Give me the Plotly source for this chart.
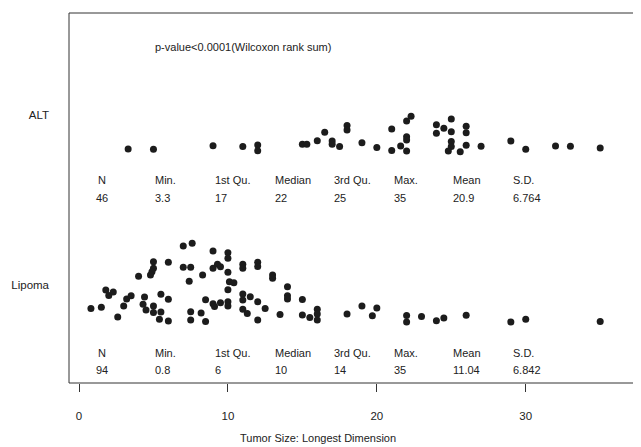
import plotly.graph_objects as go

# ---------------- data ----------------
groups = ["Lipoma", "ALT"]
group_pos = [1, 2]

alt_x = [3.3, 5.0, 9, 11, 12, 12, 15, 15.3, 16, 16.5, 17, 17, 17.5, 18, 18, 19, 20,
         21, 21, 21.6, 22, 22.3, 22, 22, 22, 24, 24, 24.5, 25, 25, 25, 25, 24.8, 25.6,
         26, 26, 26, 27, 29, 30, 32, 33, 35]
alt_y = [1.800, 1.798, 1.819, 1.814, 1.824, 1.790, 1.828, 1.828, 1.849, 1.898, 1.847,
         1.828, 1.815, 1.938, 1.912, 1.837, 1.809, 1.918, 1.791, 1.818, 1.965, 1.993,
         1.872, 1.853, 1.788, 1.943, 1.892, 1.922, 1.976, 1.902, 1.844, 1.815, 1.788,
         1.784, 1.934, 1.896, 1.822, 1.816, 1.847, 1.798, 1.818, 1.816, 1.806]

lip_x = [0.8, 1.5, 1.8, 2, 2.3, 2.6, 3, 3.2, 3.5, 4, 4.4, 4.3, 4.5, 5, 5, 4.9, 4.8, 5, 5,
         5.5, 5.5, 5.4, 6, 6, 6, 7, 7.6, 7, 7.5, 7.4, 7.5, 7.5, 8.3, 8.2, 8.5, 8.5,
         9, 9, 9.3, 9.5, 10, 10, 10, 10.1, 10.4, 10, 9, 9.1, 9.5, 10, 10,
         11, 11, 11, 11, 11, 11.3, 11.5, 12, 12, 13, 13, 14, 14, 14, 15, 12, 12.5, 12,
         13.5, 15, 15.5, 16, 16, 16, 18, 19, 19.7, 20, 22, 22, 23, 24, 24.5, 26, 29, 30, 35]
lip_y = [0.862, 0.869, 0.971, 0.938, 0.959, 0.812, 0.876, 0.918, 0.937, 1.051, 0.929,
         0.887, 0.853, 1.137, 1.098, 1.078, 1.059, 0.876, 0.838, 0.945, 0.841, 0.799,
         1.134, 0.916, 0.788, 1.229, 1.246, 1.105, 1.104, 1.022, 0.843, 0.794, 1.059,
         0.835, 0.913, 0.786, 1.200, 1.098, 1.122, 1.108, 1.190, 1.157, 1.075, 1.019,
         1.013, 0.972, 0.890, 0.874, 0.896, 0.902, 0.876, 1.122, 1.098, 0.947, 0.912,
         0.858, 0.832, 0.931, 1.134, 1.109, 1.059, 1.039, 0.990, 0.937, 0.918, 0.914,
         0.902, 0.862, 0.794, 0.826, 0.824, 0.809, 0.858, 0.829, 0.794, 0.829, 0.876,
         0.819, 0.865, 0.821, 0.782, 0.814, 0.790, 0.806, 0.822, 0.782, 0.798, 0.786]

stat_names = ["N", "Min.", "1st Qu.", "Median", "3rd Qu.", "Max.", "Mean", "S.D."]
stat_x = [1, 5, 9, 13, 17, 21, 25, 29]
alt_stats = ["46", "3.3", "17", "22", "25", "35", "20.9", "6.764"]
lip_stats = ["94", "0.8", "6", "10", "14", "35", "11.04", "6.842"]
alt_stat_y = [1.615, 1.51]
lip_stat_y = [0.6, 0.5]

pvalue_text = "p-value<0.0001(Wilcoxon rank sum)"
x_ticks = [0, 10, 20, 30]
x_title = "Tumor Size: Longest Dimension"

# ---------------- figure ----------------
FONT = "Liberation Sans, Arial, sans-serif"
DOT = "#1c1c1c"
TXT = "#222222"

fig = go.Figure()
fig.add_trace(go.Scatter(x=alt_x, y=alt_y, mode="markers", name="ALT",
                         marker=dict(size=7, color=DOT), hoverinfo="x"))
fig.add_trace(go.Scatter(x=lip_x, y=lip_y, mode="markers", name="Lipoma",
                         marker=dict(size=7, color=DOT), hoverinfo="x"))

annotations = []
for rows, (hy, vy) in ((alt_stats, alt_stat_y), (lip_stats, lip_stat_y)):
    for i, (name, sx, val) in enumerate(zip(stat_names, stat_x, rows)):
        if i == 0:
            annotations.append(dict(x=sx + 0.55, y=hy, text=name, xanchor="center",
                                    yanchor="middle", showarrow=False,
                                    font=dict(size=11, color=TXT, family=FONT)))
        else:
            annotations.append(dict(x=sx, y=hy, text=name, xanchor="left",
                                    yanchor="middle", showarrow=False,
                                    font=dict(size=11, color=TXT, family=FONT)))
        annotations.append(dict(x=sx, y=vy, text=val, xanchor="left",
                                yanchor="middle", showarrow=False,
                                font=dict(size=11, color=TXT, family=FONT)))

annotations.append(dict(x=5, y=2.4, text=pvalue_text, xanchor="left", yanchor="middle",
                        showarrow=False, font=dict(size=11, color=TXT, family=FONT)))
annotations.append(dict(x=0.435, y=-0.15, xref="paper", yref="paper", text=x_title,
                        xanchor="center", yanchor="middle", showarrow=False,
                        font=dict(size=11, color=TXT, family=FONT)))

line = dict(color="#333333", width=1)
shapes = [
    dict(type="line", xref="paper", yref="paper", x0=0, x1=0, y0=0, y1=1, line=line),
    dict(type="line", xref="paper", yref="paper", x0=0, x1=1.01, y0=1, y1=1, line=line),
    dict(type="line", xref="paper", yref="paper", x0=0, x1=1.01, y0=0, y1=0, line=line),
]

# the page places the figure 8px from the top-left corner of the window
fig.update_layout(
    width=633, height=439,
    margin=dict(l=61, r=0, t=5, b=64),
    paper_bgcolor="white", plot_bgcolor="white",
    showlegend=False,
    font=dict(family=FONT, size=11, color=TXT),
    annotations=annotations,
    shapes=shapes,
    xaxis=dict(range=[-0.672, 37.74], tickvals=x_ticks, ticks="outside", ticklen=8,
               tickcolor="#333333", tickwidth=1, showgrid=False, zeroline=False,
               showline=False, ticklabelstandoff=14,
               tickfont=dict(size=11.5, color=TXT, family=FONT)),
    yaxis=dict(range=[0.4235, 2.6], tickvals=group_pos, ticktext=groups, ticks="",
               showgrid=False, zeroline=False, showline=False, ticklabelstandoff=19,
               tickfont=dict(size=11.5, color=TXT, family=FONT)),
)

fig.write_html("out.html")
